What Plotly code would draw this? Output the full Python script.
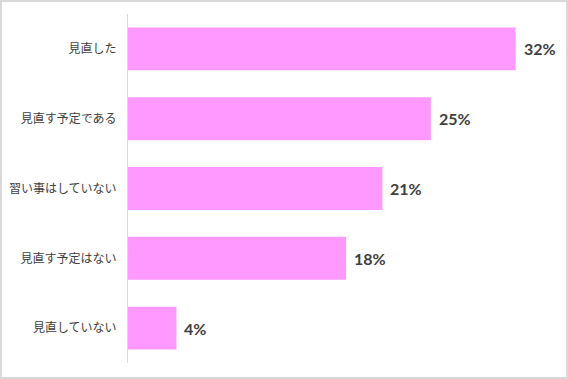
import plotly.graph_objects as go

categories = ["見直した", "見直す予定である", "習い事はしていない", "見直す予定はない", "見直していない"]
values = [32, 25, 21, 18, 4]
value_labels = ["32%", "25%", "21%", "18%", "4%"]

W, H = 568, 379
L, R, T, B = 128, 16, 14, 16
PW, PH = W - L - R, H - T - B

fig = go.Figure()
fig.add_trace(go.Bar(
    y=categories, x=values, orientation="h",
    marker=dict(color="#FF99FF", line=dict(width=0)),
    hoverinfo="skip",
))
for c, v, t in zip(categories, values, value_labels):
    fig.add_annotation(x=v, y=c, text=f"<b>{t}</b>", showarrow=False,
                       xanchor="left", xshift=6,
                       font=dict(family="Lato, Noto Sans", size=16, color="#404040"))

# outer border
fig.add_shape(type="rect", xref="paper", yref="paper",
              x0=(1 - L) / PW, x1=(W - 1 - L) / PW,
              y0=(H - B - (H - 1)) / PH, y1=(H - B - 1) / PH,
              line=dict(color="#d9d9d9", width=2), fillcolor="rgba(0,0,0,0)")

fig.update_layout(
    width=W, height=H,
    margin=dict(l=L, r=R, t=T, b=B, pad=0, autoexpand=False),
    paper_bgcolor="white", plot_bgcolor="white",
    bargap=0.385, showlegend=False,
    font=dict(family="Noto Sans CJK JP", size=12, color="#404040"),
    xaxis=dict(range=[0, 35], showgrid=False, zeroline=False, showticklabels=False,
               showline=False, fixedrange=True, automargin=False),
    yaxis=dict(autorange="reversed", showgrid=False, zeroline=False,
               showline=True, linecolor="#d9d9d9", linewidth=1, automargin=False,
               ticks="outside", ticklen=8, tickcolor="rgba(0,0,0,0)",
               tickfont=dict(family="Noto Sans CJK JP", size=12, color="#404040")),
)
fig.write_html("out.html",
               config=dict(displayModeBar=False, staticPlot=True),
               post_script="document.body.style.margin='0';document.body.style.overflow='hidden';")
